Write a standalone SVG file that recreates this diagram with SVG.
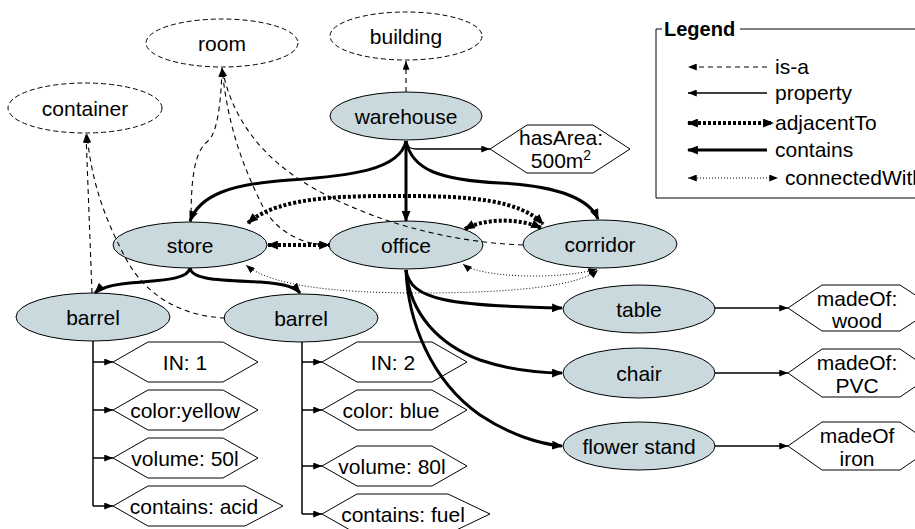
<svg xmlns="http://www.w3.org/2000/svg" width="915" height="529" viewBox="0 0 915 529">
  <defs>
    <style>
      text { font-family: "Liberation Sans", Arial, Helvetica, sans-serif; font-size: 21px; fill: #000; text-anchor: middle; }
      .inst { fill: #c9d9de; stroke: #000; stroke-width: 1; }
      .cls { fill: #fff; stroke: #000; stroke-width: 1; stroke-dasharray: 5 3; }
      .val { fill: #fff; stroke: #000; stroke-width: 1; }
      .isa { fill: none; stroke: #000; stroke-width: 1.1; stroke-dasharray: 5 4; marker-end: url(#ah); }
      .prop { fill: none; stroke: #000; stroke-width: 1.5; marker-end: url(#ah); }
      .cont { fill: none; stroke: #000; stroke-width: 3; marker-end: url(#ahb); }
      .adj { fill: none; stroke: #000; stroke-width: 4; stroke-dasharray: 3 2; marker-start: url(#ahb); marker-end: url(#ahb); }
      .conn { fill: none; stroke: #000; stroke-width: 1; stroke-dasharray: 1 2; marker-start: url(#ah); marker-end: url(#ah); }
    </style>
    <marker id="ah" viewBox="0 0 10 8" refX="10" refY="4" markerWidth="9" markerHeight="7" markerUnits="userSpaceOnUse" orient="auto-start-reverse">
      <path d="M0,0 L10,4 L0,8 z" fill="#000"/>
    </marker>
    <marker id="ahb" viewBox="0 0 10 8" refX="9" refY="4" markerWidth="11" markerHeight="9" markerUnits="userSpaceOnUse" orient="auto-start-reverse">
      <path d="M0,0 L10,4 L0,8 z" fill="#000"/>
    </marker>
  </defs>

  <rect width="915" height="529" fill="#fff"/>

  <!-- legend -->
  <g id="legend">
    <path d="M662,29 H656 V198 H930 M740,29 H930" fill="none" stroke="#000" stroke-width="1"/>
    <text x="664" y="36" style="text-anchor:start;font-weight:bold;font-size:20px">Legend</text>
    <path class="isa" d="M767,67 H688"/>
    <path class="prop" d="M767,93 H688"/>
    <path class="adj" d="M688,123 H773"/>
    <path class="cont" d="M767,150 H688"/>
    <path class="conn" d="M688,178 H778"/>
    <text x="775" y="74" style="text-anchor:start">is-a</text>
    <text x="775" y="100" style="text-anchor:start">property</text>
    <text x="775" y="130" style="text-anchor:start">adjacentTo</text>
    <text x="775" y="157" style="text-anchor:start">contains</text>
    <text x="785" y="185" style="text-anchor:start">connectedWith</text>
  </g>

  <!-- concept nodes -->
  <g id="room"><ellipse class="cls" cx="222" cy="43" rx="76" ry="24"/><text x="222" y="51">room</text></g>
  <g id="container"><ellipse class="cls" cx="85" cy="108" rx="77" ry="25"/><text x="85" y="116">container</text></g>
  <g id="building"><ellipse class="cls" cx="406" cy="36" rx="76" ry="24"/><text x="406" y="44">building</text></g>

  <!-- instance nodes -->
  <g id="warehouse"><ellipse class="inst" cx="406" cy="116" rx="76" ry="24"/><text x="406" y="124">warehouse</text></g>
  <g id="store"><ellipse class="inst" cx="190" cy="245" rx="77" ry="23"/><text x="190" y="253">store</text></g>
  <g id="office"><ellipse class="inst" cx="406" cy="245" rx="77" ry="24"/><text x="406" y="253">office</text></g>
  <g id="corridor"><ellipse class="inst" cx="600" cy="244" rx="77" ry="24"/><text x="600" y="252">corridor</text></g>
  <g id="barrel1"><ellipse class="inst" cx="93" cy="317" rx="77" ry="24"/><text x="93" y="325">barrel</text></g>
  <g id="barrel2"><ellipse class="inst" cx="301" cy="318" rx="77" ry="24"/><text x="301" y="326">barrel</text></g>
  <g id="table"><ellipse class="inst" cx="639" cy="309" rx="76" ry="24"/><text x="639" y="317">table</text></g>
  <g id="chair"><ellipse class="inst" cx="639" cy="373" rx="76" ry="25"/><text x="639" y="381">chair</text></g>
  <g id="flowerstand"><ellipse class="inst" cx="639" cy="446" rx="76" ry="24"/><text x="639" y="454">flower stand</text></g>

  <!-- property values -->
  <g id="hasArea"><polygon class="val" points="490,149 527,125 593,125 630,149 593,173 527,173"/><text x="561" y="145">hasArea:</text><text x="561" y="168">500m<tspan dy="-8" style="font-size:14px">2</tspan></text></g>
  <g id="in1"><polygon class="val" points="113,362 148,342 223,342 258,362 223,382 148,382"/><text x="185" y="370">IN: 1</text></g>
  <g id="color1"><polygon class="val" points="113,410 148,390 223,390 258,410 223,430 148,430"/><text x="185" y="418">color:yellow</text></g>
  <g id="volume1"><polygon class="val" points="113,458 148,438 223,438 258,458 223,478 148,478"/><text x="185" y="466">volume: 50l</text></g>
  <g id="contains1"><polygon class="val" points="113,506 148,486 245,486 283,506 245,526 148,526"/><text x="194" y="514">contains: acid</text></g>
  <g id="in2"><polygon class="val" points="322,362 357,342 432,342 467,362 432,382 357,382"/><text x="393" y="370">IN: 2</text></g>
  <g id="color2"><polygon class="val" points="322,410 357,390 432,390 467,410 432,430 357,430"/><text x="391" y="418">color: blue</text></g>
  <g id="volume2"><polygon class="val" points="322,466 357,446 432,446 467,466 432,486 357,486"/><text x="392" y="474">volume: 80l</text></g>
  <g id="contains2"><polygon class="val" points="322,514 357,494 448,494 490,514 448,534 357,534"/><text x="403" y="522">contains: fuel</text></g>
  <g id="madeOfWood"><polygon class="val" points="788,308 822,285 900,285 935,308 900,331 822,331"/><text x="857" y="306">madeOf:</text><text x="857" y="328">wood</text></g>
  <g id="madeOfPVC"><polygon class="val" points="788,373 822,349 900,349 935,373 900,397 822,397"/><text x="857" y="370">madeOf:</text><text x="857" y="393">PVC</text></g>
  <g id="madeOfIron"><polygon class="val" points="788,446 822,422 900,422 935,446 900,470 822,470"/><text x="857" y="443">madeOf</text><text x="857" y="466">iron</text></g>

  <!-- connectors -->
  <g id="connectors">
    <!-- is-a -->
    <path class="isa" d="M406,92 L406,61"/>
    <path class="isa" d="M191,222 C191,185 193,152 208,141 C217,133 221,105 222,68"/>
    <path class="isa" d="M330,245 C300,245 275,230 262,205 C245,170 228,130 222,68"/>
    <path class="isa" d="M523,245 C470,243 420,232 380,218 C320,196 240,160 222,68"/>
    <path class="isa" d="M92,293 L86,134"/>
    <path class="isa" d="M225,318 C180,316 145,295 125,257 C110,228 92,190 87,134"/>

    <!-- contains -->
    <path class="cont" d="M406,141 C400,170 350,176 290,180 C230,184 200,195 190,221"/>
    <path class="cont" d="M406,141 L406,221"/>
    <path class="cont" d="M406,141 C412,170 440,180 500,183 C560,186 590,200 598,219"/>
    <path class="cont" d="M190,268 C188,280 160,280 130,283 C110,285 100,288 95,293"/>
    <path class="cont" d="M190,268 C192,280 220,280 260,282 C285,284 295,287 300,293"/>
    <path class="cont" d="M406,270 C410,300 450,306 562,308"/>
    <path class="cont" d="M406,270 C410,315 440,345 480,360 C510,370 540,373 562,373"/>
    <path class="cont" d="M406,270 C408,320 430,380 480,415 C510,435 540,444 562,446"/>

    <!-- property -->
    <path class="prop" d="M406,141 Q407,149 416,149 L490,149"/>
    <path d="M93,341 V506 M302,342 V514" fill="none" stroke="#000" stroke-width="1.5"/>
    <path class="prop" d="M93,362 H113"/>
    <path class="prop" d="M93,410 H113"/>
    <path class="prop" d="M93,458 H113"/>
    <path class="prop" d="M93,506 H113"/>
    <path class="prop" d="M302,362 H322"/>
    <path class="prop" d="M302,410 H322"/>
    <path class="prop" d="M302,466 H322"/>
    <path class="prop" d="M302,514 H322"/>
    <path class="prop" d="M715,308 H788"/>
    <path class="prop" d="M715,373 H788"/>
    <path class="prop" d="M715,446 H788"/>

    <!-- adjacentTo -->
    <path class="adj" d="M268,245 H329"/>
    <path class="adj" d="M248,223 C280,195 350,196 406,196 C470,196 520,200 543,224"/>
    <path class="adj" d="M465,229 C485,218 520,218 541,228"/>

    <!-- connectedWith -->
    <path class="conn" d="M463,264 C480,278 560,280 597,269"/>
    <path class="conn" d="M246,265 C270,285 330,293 420,293 C520,293 580,285 598,270"/>
  </g>
</svg>
